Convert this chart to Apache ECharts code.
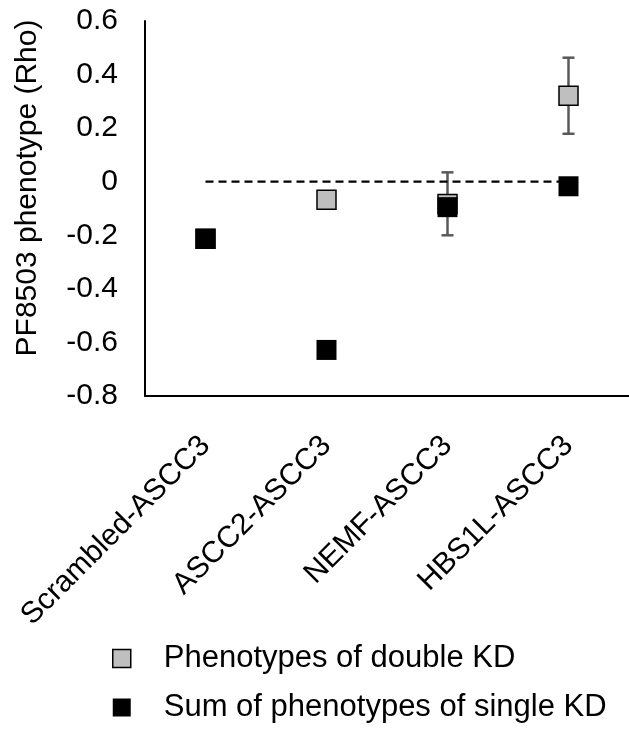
<!DOCTYPE html>
<html><head><meta charset="utf-8">
<script src="https://cdn.jsdelivr.net/npm/echarts@6/dist/echarts.min.js"></script>
<style>html,body{margin:0;padding:0;background:#fff}#c{width:629px;height:733px}</style>
</head><body><div id="c"></div>
<script>
const categories = ['Scrambled-ASCC3', 'ASCC2-ASCC3', 'NEMF-ASCC3', 'HBS1L-ASCC3'];
const doubleKD = [-0.213, -0.067, -0.083, 0.321];
const sumSingleKD = [-0.213, -0.628, -0.095, -0.017];
const errPlus = [null, null, 0.118, 0.142];
const errMinus = [null, null, 0.117, 0.142];
const baseline = [0, 0, 0, 0];
const seriesNames = ['Phenotypes of double KD', 'Sum of phenotypes of single KD'];
const yTitle = 'PF8503 phenotype (Rho)';

const FONT = "'Liberation Sans', Arial, sans-serif";
const errData = [];
categories.forEach((c, i) => {
  if (errPlus[i] != null) errData.push([i, doubleKD[i] + errPlus[i], doubleKD[i] - errMinus[i]]);
});

const chart = echarts.init(document.getElementById('c'), null, {renderer: 'canvas'});
chart.setOption({
  animation: false,
  backgroundColor: '#fff',
  textStyle: {fontFamily: FONT},
  grid: {left: 145, top: 21, width: 490, height: 375, containLabel: false},
  xAxis: {
    type: 'category',
    data: categories,
    axisLine: {onZero: false, lineStyle: {color: '#000', width: 2}},
    axisTick: {show: false},
    axisLabel: {interval: 0, rotate: 45, margin: 45, fontSize: 30, color: '#000', fontFamily: FONT}
  },
  yAxis: {
    type: 'value',
    min: -0.8, max: 0.6, interval: 0.2,
    axisLine: {show: true, lineStyle: {color: '#000', width: 2}},
    axisTick: {show: false},
    splitLine: {show: false},
    axisLabel: {fontSize: 30, color: '#000', margin: 27, fontFamily: FONT,
      formatter: v => { const r = Math.round(v * 10) / 10; return r === 0 ? '0' : String(r); }}
  },
  legend: {
    orient: 'vertical',
    left: 107, top: 638,
    itemWidth: 18, itemHeight: 18, itemGap: 18,
    textStyle: {fontSize: 31, color: '#000', fontFamily: FONT, lineHeight: 30, padding: [0, 0, 0, 28]},
    data: [
      {name: seriesNames[0], icon: 'rect', itemStyle: {color: '#bfbfbf', borderColor: '#000', borderWidth: 1.5}},
      {name: seriesNames[1], icon: 'rect', itemStyle: {color: '#000'}}
    ]
  },
  graphic: [{
    type: 'text', x: 28, y: 188, rotation: Math.PI / 2,
    style: {text: yTitle, font: "30px 'Liberation Sans', Arial, sans-serif", fill: '#000', align: 'center', verticalAlign: 'middle'}
  }],
  series: [
    {
      type: 'custom', name: 'err', z: 1, silent: true,
      data: errData,
      encode: {x: 0, y: [1, 2]},
      renderItem: (params, api) => {
        const i = api.value(0);
        const pHi = api.coord([i, api.value(1)]);
        const pLo = api.coord([i, api.value(2)]);
        const w = 6;
        const style = {stroke: '#595959', lineWidth: 2.5};
        return {type: 'group', children: [
          {type: 'line', shape: {x1: pHi[0], y1: pHi[1], x2: pLo[0], y2: pLo[1]}, style},
          {type: 'line', shape: {x1: pHi[0] - w, y1: pHi[1], x2: pHi[0] + w, y2: pHi[1]}, style},
          {type: 'line', shape: {x1: pLo[0] - w, y1: pLo[1], x2: pLo[0] + w, y2: pLo[1]}, style}
        ]};
      }
    },
    {
      type: 'line', name: 'baseline', z: 2, silent: true,
      data: baseline, showSymbol: false, symbol: 'none',
      lineStyle: {color: '#000', width: 2.2, type: [8, 5]}
    },
    {
      type: 'scatter', name: seriesNames[0], z: 3,
      data: doubleKD, symbol: 'rect', symbolSize: 19,
      itemStyle: {color: '#bfbfbf', borderColor: '#000', borderWidth: 1.5, opacity: 1}
    },
    {
      type: 'scatter', name: seriesNames[1], z: 4,
      data: sumSingleKD, symbol: 'rect', symbolSize: 20,
      itemStyle: {color: '#000', opacity: 1}
    }
  ]
});
</script></body></html>
